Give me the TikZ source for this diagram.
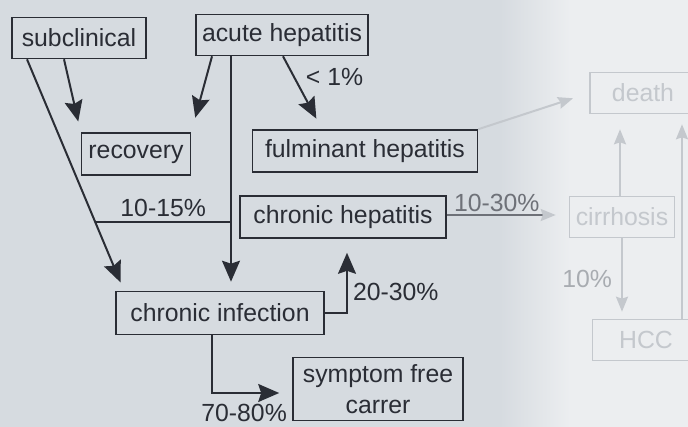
\documentclass[tikz,border=0pt]{standalone}
\usepackage{fontspec}
\setmainfont{Liberation Sans}
\usetikzlibrary{arrows.meta}
\definecolor{bgcol}{HTML}{D6DBE0}
\definecolor{glarecol}{HTML}{ECEEF0}
\definecolor{inkcol}{HTML}{2A2D35}
\definecolor{fadecol}{HTML}{C4C8CD}
\definecolor{fadetext}{HTML}{A8ACB1}
\definecolor{midcol}{HTML}{6E7178}
\tikzset{
	box/.style={draw=inkcol, line width=1.6pt, text=inkcol, inner xsep=3pt, minimum height=42pt},
	fadebox/.style={box, draw=fadecol, text=fadecol},
	conn/.style={->, line width=2pt, draw=inkcol},
	fadeconn/.style={-{Stealth[length=15pt,width=12pt,inset=2pt]}, line width=2pt, draw=fadecol},
	lab/.style={text=inkcol, inner sep=2pt},
}
\begin{document}
\begin{tikzpicture}[>={Stealth[length=21pt,width=18pt,inset=3pt]},x=1pt,y=-1pt,font=\fontsize{24.8}{29}\selectfont]
	\fill[bgcol] (0,0) rectangle (688,427);
	\useasboundingbox (0,0) rectangle (688,427);
	\clip (0,0) rectangle (688,427);
	% faded right part
	\shade[left color=bgcol, right color=glarecol] (500,0) rectangle (570,427);
	\fill[glarecol] (570,0) rectangle (688,427);
	% boxes
	\node[box, minimum width=134pt, minimum height=41pt] (sub) at (79,38) {subclinical};
	\node[box, minimum width=172pt, minimum height=41pt] (acute) at (282,35) {acute hepatitis};
	\node[box, minimum width=109pt] (rec) at (136,154) {recovery};
	\node[box, minimum width=225pt] (fulm) at (365,151) {fulminant hepatitis};
	\node[box, minimum width=206pt] (chep) at (343,217) {chronic hepatitis};
	\node[box, minimum width=208pt, minimum height=43pt] (cinf) at (220,313) {chronic infection};
	\node[box, minimum width=170pt, minimum height=63pt, align=center] (sfc) at (378,389) {symptom free\\[2pt]carrer};
	\node[fadebox, minimum width=106pt, minimum height=41pt] (death) at (643,93) {death};
	\node[fadebox, minimum width=105pt, minimum height=41pt] (cirr) at (622,217) {cirrhosis};
	\node[fadebox, minimum width=107pt, minimum height=41pt] (hcc) at (646,340) {HCC};
	% connectors
	\draw[conn, shorten >=11pt] ([xshift=-15pt]sub.south) -- (rec.north west);
	\draw[conn, shorten >=15pt] ([xshift=-70pt]acute.south) -- (rec.north east);
	\draw[conn, shorten >=12pt] ([xshift=1pt]acute.south) -- node[lab, pos=0.28, right=9pt] {< 1\%} ([xshift=-43pt]fulm.north);
	\draw[conn, shorten >=9pt] ([xshift=-52pt]sub.south) -- coordinate[pos=0.705] (dg) ([xshift=-96pt]cinf.north);
	\draw[conn, shorten >=9pt] ([xshift=-51pt]acute.south) coordinate (vt) -- ([xshift=-51pt]acute.south |- cinf.north);
	\draw[line width=2pt, draw=inkcol] (dg) -- node[lab, above=3pt] {10-15\%} (dg -| vt);
	\draw[conn, shorten >=14pt] (cinf.east) -| node[lab, pos=0.64, right=3pt] {20-30\%} ([xshift=4pt]chep.south);
	\draw[conn, shorten >=13pt] ([xshift=-8pt]cinf.south) |- node[lab, pos=0.7, below=8pt] {70-80\%} ([yshift=-4pt]sfc.west);
	% faded connectors
	\draw[fadeconn, shorten >=17pt] (fulm.north east) -- (death.west);
	\draw[fadeconn, draw=midcol, -{Stealth[length=15pt,width=12pt,inset=2pt,color=fadecol]}, shorten >=13pt] ([yshift=2pt]chep.east) -- node[lab, text=midcol, pos=0.41, above=0pt] {10-30\%} ([yshift=2pt]cirr.west);
	\draw[fadeconn, shorten >=15pt] ([xshift=-2pt]cirr.north) -- ([xshift=-2pt]cirr.north |- death.south);
	\draw[fadeconn, shorten >=10pt] ([xshift=36pt]hcc.north) -- ([xshift=36pt]hcc.north |- death.south);
	\draw[fadeconn, shorten >=7pt] (cirr.south) -- node[lab, text=fadetext, midway, left=7pt] {10\%} (cirr.south |- hcc.north);
\end{tikzpicture}
\end{document}
